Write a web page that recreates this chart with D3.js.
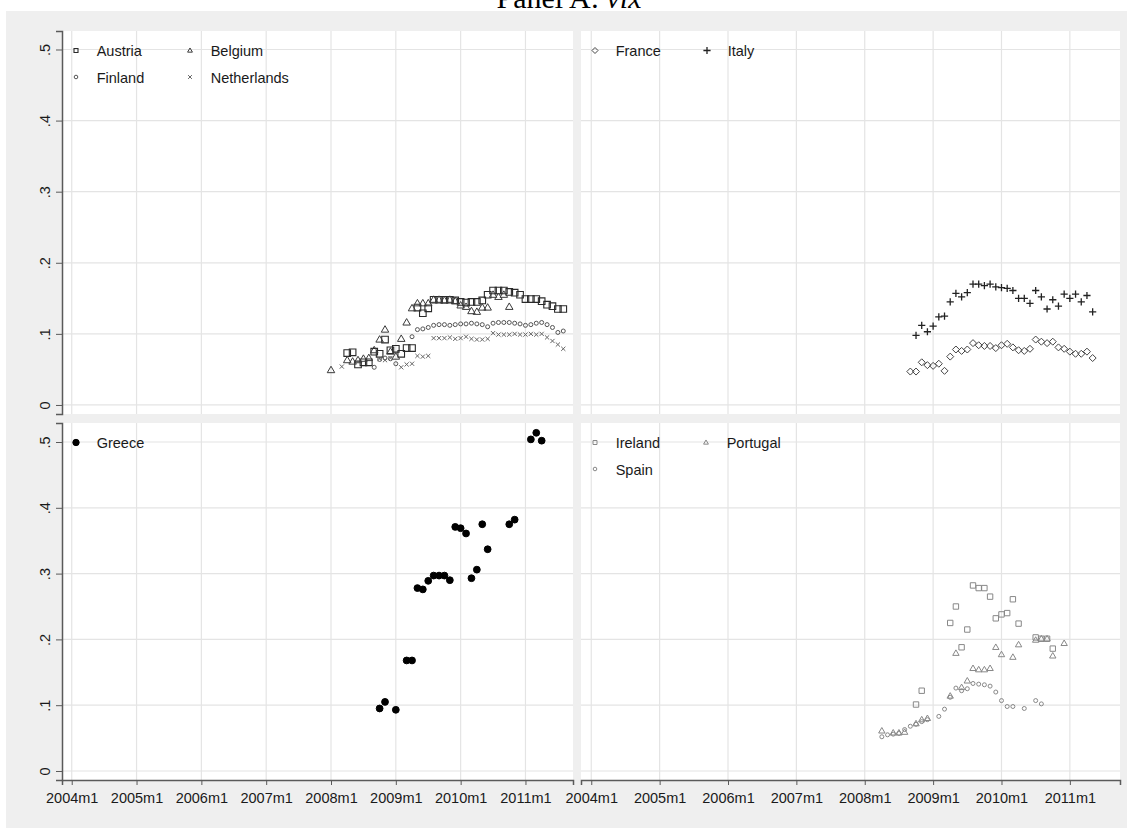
<!DOCTYPE html>
<html>
<head>
<meta charset="utf-8">
<script src="https://cdn.jsdelivr.net/npm/d3@7"></script>
<style>
  body { margin: 0; background: #fff; }
  text { font-family: "Liberation Sans", Arial, sans-serif; fill: #1a1a1a; }
</style>
</head>
<body>
<svg id="chart" width="1127" height="828"></svg>
<script>
var yearLabels = ["2004m1", "2005m1", "2006m1", "2007m1", "2008m1", "2009m1", "2010m1", "2011m1"];
var yTickValues = [0, 0.1, 0.2, 0.3, 0.4, 0.5];
var yTickLabels = ["0", ".1", ".2", ".3", ".4", ".5"];

// values, [month, vix coefficient]
var austria = [["2008m4",.073],["2008m5",.074],["2008m6",.057],["2008m7",.060],["2008m8",.060],["2008m9",.075],
  ["2008m10",.072],["2008m11",.092],["2008m12",.077],["2009m1",.079],["2009m2",.072],["2009m3",.080],["2009m4",.080],
  ["2009m5",.137],["2009m6",.129],["2009m7",.136],["2009m8",.148],["2009m9",.148],["2009m10",.148],["2009m11",.148],
  ["2009m12",.147],["2010m1",.145],["2010m2",.144],["2010m3",.145],["2010m4",.145],["2010m5",.147],["2010m6",.155],
  ["2010m7",.161],["2010m8",.161],["2010m9",.161],["2010m10",.159],["2010m11",.158],["2010m12",.155],["2011m1",.149],
  ["2011m2",.149],["2011m3",.149],["2011m4",.146],["2011m5",.141],["2011m6",.139],["2011m7",.135],["2011m8",.135]];
var belgium = [["2008m1",.049],["2008m4",.063],["2008m5",.061],["2008m6",.063],["2008m7",.065],["2008m8",.066],
  ["2008m9",.077],["2008m10",.092],["2008m11",.106],["2008m12",.075],["2009m1",.068],["2009m2",.093],["2009m3",.116],
  ["2009m4",.136],["2009m5",.143],["2009m6",.143],["2009m7",.143],["2009m8",.148],["2009m9",.148],["2009m10",.147],
  ["2009m11",.148],["2009m12",.146],["2010m1",.140],["2010m2",.138],["2010m3",.132],["2010m4",.131],["2010m5",.137],
  ["2010m6",.137],["2010m7",.155],["2010m8",.152],["2010m9",.155],["2010m10",.138]];
var finland = [["2008m9",.053],["2008m10",.064],["2008m11",.066],["2008m12",.065],["2009m1",.058],["2009m4",.096],
  ["2009m5",.106],["2009m6",.107],["2009m7",.109],["2009m8",.112],["2009m9",.113],["2009m10",.113],["2009m11",.112],
  ["2009m12",.113],["2010m1",.114],["2010m2",.114],["2010m3",.115],["2010m4",.114],["2010m5",.113],["2010m6",.110],
  ["2010m7",.115],["2010m8",.116],["2010m9",.116],["2010m10",.116],["2010m11",.115],["2010m12",.114],["2011m1",.112],
  ["2011m2",.113],["2011m3",.115],["2011m4",.116],["2011m5",.113],["2011m6",.109],["2011m7",.102],["2011m8",.104]];
var netherlands = [["2008m3",.054],["2008m10",.065],["2008m11",.063],["2008m12",.066],["2009m2",.053],["2009m3",.057],
  ["2009m4",.058],["2009m5",.069],["2009m6",.068],["2009m7",.069],["2009m8",.094],["2009m9",.094],["2009m10",.094],
  ["2009m11",.095],["2009m12",.093],["2010m1",.094],["2010m2",.096],["2010m3",.093],["2010m4",.092],["2010m5",.092],
  ["2010m6",.093],["2010m7",.101],["2010m8",.099],["2010m9",.099],["2010m10",.099],["2010m11",.100],["2010m12",.099],
  ["2011m1",.099],["2011m2",.100],["2011m3",.099],["2011m4",.100],["2011m5",.095],["2011m6",.090],["2011m7",.085],
  ["2011m8",.079]];
var france = [["2008m9",.047],["2008m10",.047],["2008m11",.060],["2008m12",.056],["2009m1",.055],["2009m2",.058],
  ["2009m3",.048],["2009m4",.068],["2009m5",.078],["2009m6",.076],["2009m7",.078],["2009m8",.087],["2009m9",.084],
  ["2009m10",.083],["2009m11",.083],["2009m12",.080],["2010m1",.084],["2010m2",.086],["2010m3",.081],["2010m4",.077],
  ["2010m5",.076],["2010m6",.079],["2010m7",.092],["2010m8",.089],["2010m9",.087],["2010m10",.089],["2010m11",.081],
  ["2010m12",.079],["2011m1",.075],["2011m2",.072],["2011m3",.072],["2011m4",.075],["2011m5",.066]];
var italy = [["2008m10",.098],["2008m11",.112],["2008m12",.103],["2009m1",.111],["2009m2",.124],["2009m3",.125],
  ["2009m4",.145],["2009m5",.157],["2009m6",.152],["2009m7",.158],["2009m8",.170],["2009m9",.170],["2009m10",.168],
  ["2009m11",.170],["2009m12",.166],["2010m1",.165],["2010m2",.164],["2010m3",.161],["2010m4",.150],["2010m5",.150],
  ["2010m6",.143],["2010m7",.161],["2010m8",.152],["2010m9",.135],["2010m10",.148],["2010m11",.139],["2010m12",.156],
  ["2011m1",.150],["2011m2",.156],["2011m3",.145],["2011m4",.154],["2011m5",.131]];
var greece = [["2008m10",.095],["2008m11",.105],["2009m1",.093],["2009m3",.168],["2009m4",.168],["2009m5",.278],
  ["2009m6",.276],["2009m7",.289],["2009m8",.297],["2009m9",.297],["2009m10",.297],["2009m11",.290],["2009m12",.371],
  ["2010m1",.369],["2010m2",.361],["2010m3",.293],["2010m4",.306],["2010m5",.375],["2010m6",.337],["2010m10",.375],
  ["2010m11",.382],["2011m2",.504],["2011m3",.514],["2011m4",.502]];
var ireland = [["2008m10",.101],["2008m11",.122],["2009m4",.225],["2009m5",.250],["2009m6",.188],["2009m7",.215],
  ["2009m8",.282],["2009m9",.278],["2009m10",.278],["2009m11",.265],["2009m12",.232],["2010m1",.238],["2010m2",.240],
  ["2010m3",.261],["2010m4",.224],["2010m7",.203],["2010m8",.201],["2010m9",.201],["2010m10",.186]];
var portugal = [["2008m4",.061],["2008m6",.058],["2008m7",.058],["2008m8",.059],["2008m10",.072],["2008m11",.078],
  ["2008m12",.080],["2009m4",.114],["2009m5",.179],["2009m6",.127],["2009m7",.137],["2009m8",.156],["2009m9",.154],
  ["2009m10",.154],["2009m11",.156],["2009m12",.188],["2010m1",.177],["2010m3",.173],["2010m4",.192],["2010m7",.199],
  ["2010m8",.201],["2010m9",.201],["2010m10",.175],["2010m12",.194]];
var spain = [["2008m4",.052],["2008m5",.055],["2008m6",.056],["2008m7",.057],["2008m8",.063],["2008m9",.068],
  ["2008m10",.071],["2008m11",.075],["2008m12",.078],["2009m2",.083],["2009m3",.094],["2009m4",.112],["2009m5",.126],
  ["2009m6",.122],["2009m7",.125],["2009m8",.133],["2009m9",.132],["2009m10",.131],["2009m11",.129],["2009m12",.120],
  ["2010m1",.107],["2010m2",.098],["2010m3",.098],["2010m5",.095],["2010m7",.107],["2010m8",.102]];

function monthIndex(s) {
  var p = s.split("m");
  return (+p[0] - 2004) * 12 + (+p[1] - 1);
}

var svg = d3.select("#chart");

svg.append("rect")
  .attr("x", 6).attr("y", 11)
  .attr("width", 1121).attr("height", 817)
  .attr("fill", "#efefef");

// the title sits above the frame and is clipped at the top, as in the original
var title = svg.append("text")
  .attr("x", 569).attr("y", 8)
  .attr("text-anchor", "middle")
  .style("font-family", "'Liberation Serif', 'Times New Roman', serif")
  .style("font-size", "30px")
  .style("fill", "#000");
title.append("tspan").text("Panel A: ");
title.append("tspan").style("font-style", "italic").text("vix");

var xDomain = [-1.8, 92.8];
var xLeft = d3.scaleLinear().domain(xDomain).range([62, 573]);
var xRight = d3.scaleLinear().domain(xDomain).range([581, 1120]);
var yTop = d3.scaleLinear().domain([-0.0127, 0.526]).range([414, 31]);
var yBot = d3.scaleLinear().domain([-0.0137, 0.5289]).range([780, 423]);

var shapes = {
  square: function(r) { return "M" + (-r) + "," + (-r) + "h" + 2 * r + "v" + 2 * r + "h" + (-2 * r) + "Z"; },
  triangle: function(r) { return "M0," + (-r * 1.15) + "L" + (r * 1.1) + "," + (r * 0.75) + "L" + (-r * 1.1) + "," + (r * 0.75) + "Z"; },
  circle: function(r) { var p = d3.path(); p.arc(0, 0, r, 0, 2 * Math.PI); p.closePath(); return p.toString(); },
  diamond: function(r) { return "M0," + (-r) + "L" + r + ",0L0," + r + "L" + (-r) + ",0Z"; },
  plus: function(r) { return "M" + (-r) + ",0H" + r + "M0," + (-r) + "V" + r; },
  times: function(r) { return "M" + (-r) + "," + (-r) + "L" + r + "," + r + "M" + (-r) + "," + r + "L" + r + "," + (-r); }
};

var panels = [
  { x: xLeft, y: yTop, yAxis: true, xAxis: false, colGap: 114, series: [
    { name: "Austria", data: austria, shape: "square", r: 3.3, lr: 2, color: "#2a2a2a", col: 0, row: 0, sw: 1.1 },
    { name: "Belgium", data: belgium, shape: "triangle", r: 3.4, lr: 2.2, color: "#3a3a3a", col: 1, row: 0 },
    { name: "Finland", data: finland, shape: "circle", r: 2, lr: 1.8, color: "#555", col: 0, row: 1 },
    { name: "Netherlands", data: netherlands, shape: "times", r: 2.1, lr: 1.9, color: "#666", col: 1, row: 1 }
  ]},
  { x: xRight, y: yTop, yAxis: false, xAxis: false, colGap: 112, series: [
    { name: "France", data: france, shape: "diamond", r: 3.5, lr: 3, color: "#444", col: 0, row: 0 },
    { name: "Italy", data: italy, shape: "plus", r: 3.6, lr: 3.6, color: "#222", col: 1, row: 0, sw: 1.3 }
  ]},
  { x: xLeft, y: yBot, yAxis: true, xAxis: true, colGap: 114, series: [
    { name: "Greece", data: greece, shape: "circle", r: 3.4, lr: 3.2, color: "#000", fill: "#000", col: 0, row: 0 }
  ]},
  { x: xRight, y: yBot, yAxis: false, xAxis: true, colGap: 111, series: [
    { name: "Ireland", data: ireland, shape: "square", r: 2.7, lr: 2, color: "#888", col: 0, row: 0 },
    { name: "Portugal", data: portugal, shape: "triangle", r: 2.9, lr: 2.2, color: "#888", col: 1, row: 0 },
    { name: "Spain", data: spain, shape: "circle", r: 2, lr: 1.8, color: "#888", col: 0, row: 1 }
  ]}
];

var yearTicks = yearLabels.map(monthIndex);

panels.forEach(function(p) {
  var x0 = p.x.range()[0], x1 = p.x.range()[1];
  var yb = p.y.range()[0], yt = p.y.range()[1];
  var g = svg.append("g");

  g.append("rect")
    .attr("x", x0).attr("y", yt)
    .attr("width", x1 - x0).attr("height", yb - yt)
    .attr("fill", "#fff");

  g.selectAll(".vgrid").data(yearTicks).enter().append("line")
    .attr("x1", d => p.x(d)).attr("x2", d => p.x(d))
    .attr("y1", yt).attr("y2", yb)
    .attr("stroke", "#e4e4e4").attr("stroke-width", 1.2);
  g.selectAll(".hgrid").data(yTickValues).enter().append("line")
    .attr("x1", x0).attr("x2", x1)
    .attr("y1", d => p.y(d)).attr("y2", d => p.y(d))
    .attr("stroke", "#e4e4e4").attr("stroke-width", 1.2);

  p.series.forEach(function(s) {
    g.selectAll(null).data(s.data).enter().append("path")
      .attr("transform", d => "translate(" + p.x(monthIndex(d[0])) + "," + p.y(d[1]) + ")")
      .attr("d", shapes[s.shape](s.r))
      .attr("fill", s.fill || "none")
      .attr("stroke", s.color)
      .attr("stroke-width", s.sw || 1);

    var lx = x0 + 14 + s.col * p.colGap;
    var ly = yt + 19.5 + s.row * 26.5;
    g.append("path")
      .attr("transform", "translate(" + lx + "," + ly + ")")
      .attr("d", shapes[s.shape](s.lr))
      .attr("fill", s.fill || "none")
      .attr("stroke", s.color)
      .attr("stroke-width", s.sw || 1);
    g.append("text")
      .attr("x", lx + 20.7).attr("y", ly + 5.5)
      .style("font-size", "14.5px")
      .text(s.name);
  });

  if (p.yAxis) {
    var ay = g.append("g")
      .attr("transform", "translate(" + x0 + ",0)")
      .call(d3.axisLeft(p.y).tickValues(yTickValues).tickSizeOuter(0).tickSize(6)
        .tickFormat((d, i) => yTickLabels[i]));
    ay.select(".domain").attr("stroke", "#5a5a5a").attr("stroke-width", 1.5);
    ay.selectAll(".tick line").attr("stroke", "#5a5a5a");
    ay.selectAll(".tick text")
      .attr("x", null).attr("dy", null)
      .attr("text-anchor", "middle")
      .attr("transform", "translate(-12,0) rotate(-90)")
      .style("font-size", "14.5px")
      .style("font-family", "'Liberation Sans', Arial, sans-serif")
      .attr("fill", "#1a1a1a");
  }

  if (p.xAxis) {
    var ax = g.append("g")
      .attr("transform", "translate(0," + yb + ")")
      .call(d3.axisBottom(p.x).tickValues(yearTicks).tickSizeOuter(0).tickSize(5)
        .tickFormat((d, i) => yearLabels[i]));
    ax.select(".domain").attr("stroke", "#5a5a5a").attr("stroke-width", 1.5);
    ax.selectAll(".tick line").attr("stroke", "#5a5a5a");
    ax.selectAll(".tick text")
      .attr("y", 23).attr("dy", null)
      .style("font-size", "14.5px")
      .style("font-family", "'Liberation Sans', Arial, sans-serif")
      .attr("fill", "#1a1a1a");
  }
});
</script>
</body>
</html>
